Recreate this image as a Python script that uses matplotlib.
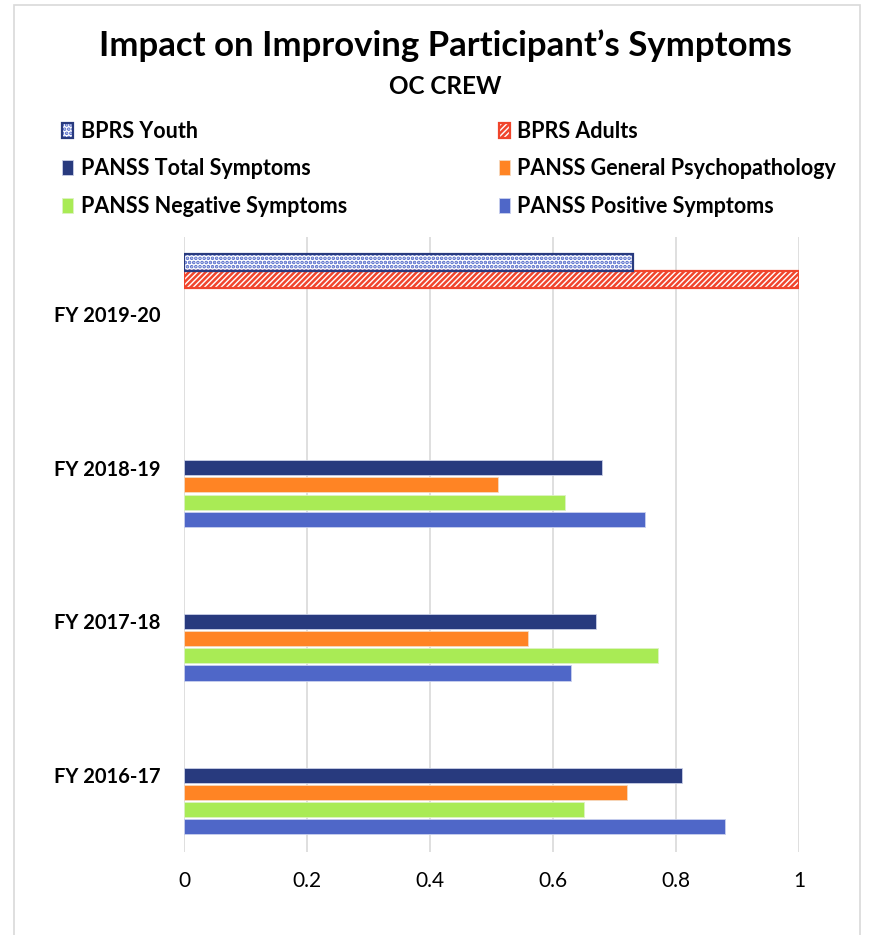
import numpy as np
import matplotlib.pyplot as plt
from matplotlib.patches import Rectangle
from matplotlib.legend_handler import HandlerTuple

plt.rcParams['font.family'] = ['Lato', 'DejaVu Sans']
plt.rcParams['hatch.linewidth'] = 1.8

years = ["FY 2016-17", "FY 2017-18", "FY 2018-19", "FY 2019-20"]
bprs_youth = [np.nan, np.nan, np.nan, 0.73]
bprs_adults = [np.nan, np.nan, np.nan, 1.00]
panss_total = [0.81, 0.67, 0.68, np.nan]
panss_general = [0.72, 0.56, 0.51, np.nan]
panss_negative = [0.65, 0.77, 0.62, np.nan]
panss_positive = [0.88, 0.63, 0.75, np.nan]
xticks = [0, 0.2, 0.4, 0.6, 0.8, 1]

navy = "#283A7E"
orange = "#FF8424"
green = "#A9EB55"
blue = "#4F67C8"
red = "#F0452C"

fig = plt.figure(figsize=(8.73, 9.35), dpi=100)
ax = fig.add_axes([0.2108, 0.0888, 0.7044, 0.6577])

pitch = 0.112
cat = np.arange(len(years))


def draw(vals, slot, h, **kw):
    vals = np.array(vals, dtype=float)
    ok = ~np.isnan(vals)
    return ax.barh(cat[ok] - slot * pitch, vals[ok], height=h, **kw)


# BPRS bars sit at the top of their group, hatched
yh = draw(bprs_youth, -3, pitch, color="white", hatch="....", edgecolor=blue, linewidth=0, zorder=3)
ye = draw(bprs_youth, -3, pitch, fill=False, edgecolor=navy, linewidth=1.6, zorder=4)
ah = draw(bprs_adults, -2, pitch, color="white", hatch="//////", edgecolor=red, linewidth=1.6, zorder=3)

# PANSS bars
h = 0.098
t = draw(panss_total, 0, h, color=navy, edgecolor="#C9CFE6", linewidth=0.6, zorder=3)
g = draw(panss_general, 1, h, color=orange, edgecolor="#F5D9C0", linewidth=0.6, zorder=3)
n = draw(panss_negative, 2, h, color=green, edgecolor="#DDF2C4", linewidth=0.6, zorder=3)
p = draw(panss_positive, 3, h, color=blue, edgecolor="#C9D0EE", linewidth=0.6, zorder=3)

ax.set_xlim(0, 1)
ax.set_ylim(-0.5, 3.5)
ax.set_xticks(xticks)
ax.set_xticklabels(["0", "0.2", "0.4", "0.6", "0.8", "1"], fontsize=15)
ax.set_yticks(cat)
ax.set_yticklabels(years, fontsize=14.5, fontweight="bold")
ax.tick_params(length=0, pad=14)
ax.tick_params(axis="y", pad=17)
ax.grid(axis="x", color="#D9D9D9", linewidth=1.2, zorder=0)
ax.set_axisbelow(True)
for s in ax.spines.values():
    s.set_visible(False)

fig.text(0.51, 0.951, "Impact on Improving Participant\u2019s Symptoms",
         ha="center", va="center", fontsize=25, fontweight="bold")
fig.text(0.51, 0.908, "OC CREW", ha="center", va="center", fontsize=17.5, fontweight="bold")

handles = [
    (yh[0], ye[0]), t[0], n[0],
    ah[0], g[0], p[0],
]
labels = ["BPRS Youth", "PANSS Total Symptoms", "PANSS Negative Symptoms",
          "BPRS Adults", "PANSS General Psychopathology", "PANSS Positive Symptoms"]
fig.legend(handles, labels, ncol=2, loc="upper left", bbox_to_anchor=(0.0715, 0.871),
           frameon=False, handlelength=0.5, handleheight=0.7, handletextpad=0.35,
           labelspacing=0.77, columnspacing=7.05, borderpad=0, borderaxespad=0,
           prop={"weight": "bold", "size": 15.5},
           handler_map={tuple: HandlerTuple(ndivide=1)})

fig.patches.append(Rectangle((14 / 873, -0.01), 846 / 873, 1 - 5 / 935 + 0.01,
                             transform=fig.transFigure, fill=False,
                             edgecolor="#D9D9D9", linewidth=1.2))

fig.savefig("out.png", dpi=100)
